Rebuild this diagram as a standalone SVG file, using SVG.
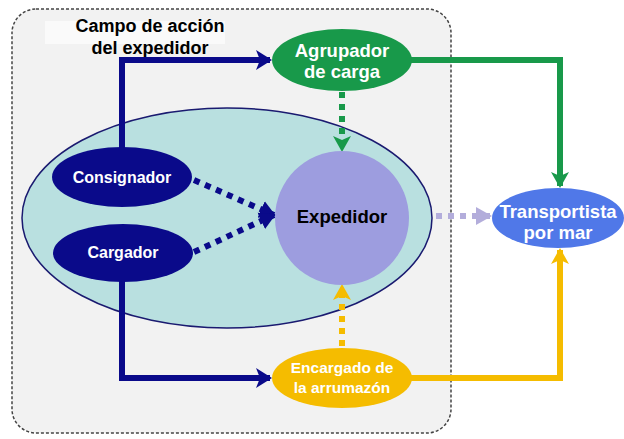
<svg xmlns="http://www.w3.org/2000/svg" width="624" height="439" viewBox="0 0 624 439">
<style>
text{font-family:"Liberation Sans",Arial,sans-serif;font-weight:bold;text-anchor:middle}
.w{fill:#ffffff}
.k{fill:#000000}
.navy{stroke:#0a0a8a;stroke-width:6;fill:none}
.green{stroke:#18994a;stroke-width:6;fill:none}
.yellow{stroke:#f5bc00;stroke-width:6;fill:none}
.dot{stroke-width:6;stroke-dasharray:6 6;fill:none}
</style>
<defs>
<marker id="aNavy" markerUnits="userSpaceOnUse" markerWidth="16" markerHeight="20" refX="14" refY="10" orient="auto"><path d="M0,0 L16,10 L0,20 L4,10 Z" fill="#0a0a8a"/></marker>
<marker id="aGreen" markerUnits="userSpaceOnUse" markerWidth="16" markerHeight="18" refX="14" refY="9" orient="auto"><path d="M0,0 L16,9 L0,18 L4,9 Z" fill="#18994a"/></marker>
<marker id="aYellow" markerUnits="userSpaceOnUse" markerWidth="16" markerHeight="18" refX="14" refY="9" orient="auto"><path d="M0,0 L16,9 L0,18 L4,9 Z" fill="#f5bc00"/></marker>
<marker id="aGray" markerUnits="userSpaceOnUse" markerWidth="16" markerHeight="18" refX="14" refY="9" orient="auto"><path d="M0,0 L16,9 L0,18 Z" fill="#b3addb"/></marker>
<marker id="aNavyDot" markerUnits="userSpaceOnUse" markerWidth="18" markerHeight="22" refX="14" refY="11" orient="auto"><path d="M0,2 L16,11 L0,20 Z" fill="#0a0a8a"/></marker>
</defs>
<rect width="624" height="439" fill="#ffffff"/>
<g id="scope">
<rect x="12" y="9" width="439" height="424" rx="24" fill="#f2f2f2" stroke="#444444" stroke-width="1.5" stroke-dasharray="3 2"/>
<rect x="45" y="21" width="180" height="23" fill="#fafafa"/>
<text class="k" x="150" y="32" font-size="18">Campo de acción</text>
<text class="k" x="150" y="54" font-size="18">del expedidor</text>
</g>
<g id="field">
<ellipse cx="227" cy="218" rx="205" ry="110" fill="#b9e0e0" stroke="#1a1a70" stroke-width="1.5"/>
</g>
<g id="connectors">
<polyline class="navy" points="122,200 122,60 270,60" marker-end="url(#aNavy)"/>
<polyline class="navy" points="122,240 122,378 270,378" marker-end="url(#aNavy)"/>
<polyline class="green" points="410,60 560,60 560,186" marker-end="url(#aGreen)"/>
<polyline class="yellow" points="410,378 560,378 560,250" marker-end="url(#aYellow)"/>
<line class="dot" x1="342" y1="92" x2="342" y2="150" stroke="#18994a" marker-end="url(#aGreen)"/>
<line class="dot" x1="342" y1="346" x2="342" y2="286" stroke="#f5bc00" marker-end="url(#aYellow)"/>
<line class="dot" x1="194" y1="180" x2="274" y2="215" stroke="#0a0a8a" marker-end="url(#aNavyDot)"/>
<line class="dot" x1="194" y1="252" x2="274" y2="215" stroke="#0a0a8a" marker-end="url(#aNavyDot)"/>
<line class="dot" x1="436" y1="216" x2="490" y2="216" stroke="#b3addb" marker-end="url(#aGray)"/>
</g>
<g id="expedidor">
<circle cx="342" cy="218" r="67" fill="#9d9ddf"/>
<text class="k" x="342" y="223" font-size="18.5">Expedidor</text>
</g>
<g id="consignador">
<ellipse cx="122" cy="177" rx="70" ry="30" fill="#0a0a8a"/>
<text class="w" x="122" y="183" font-size="16">Consignador</text>
</g>
<g id="cargador">
<ellipse cx="123" cy="253" rx="70" ry="29" fill="#0a0a8a"/>
<text class="w" x="123" y="258" font-size="16">Cargador</text>
</g>
<g id="agrupador">
<ellipse cx="342" cy="60" rx="70" ry="31" fill="#18994a"/>
<text class="w" x="342" y="57" font-size="18.5">Agrupador</text>
<text class="w" x="342" y="78" font-size="18.5">de carga</text>
</g>
<g id="encargado">
<ellipse cx="342" cy="378" rx="70" ry="30" fill="#f5bc00"/>
<text class="w" x="342" y="373" font-size="15.5">Encargado de</text>
<text class="w" x="342" y="393" font-size="15.5">la arrumazón</text>
</g>
<g id="transportista">
<ellipse cx="558" cy="218" rx="66" ry="30" fill="#5078e8"/>
<text class="w" x="558" y="218" font-size="18.5">Transportista</text>
<text class="w" x="558" y="239" font-size="18.5">por mar</text>
</g>
</svg>
